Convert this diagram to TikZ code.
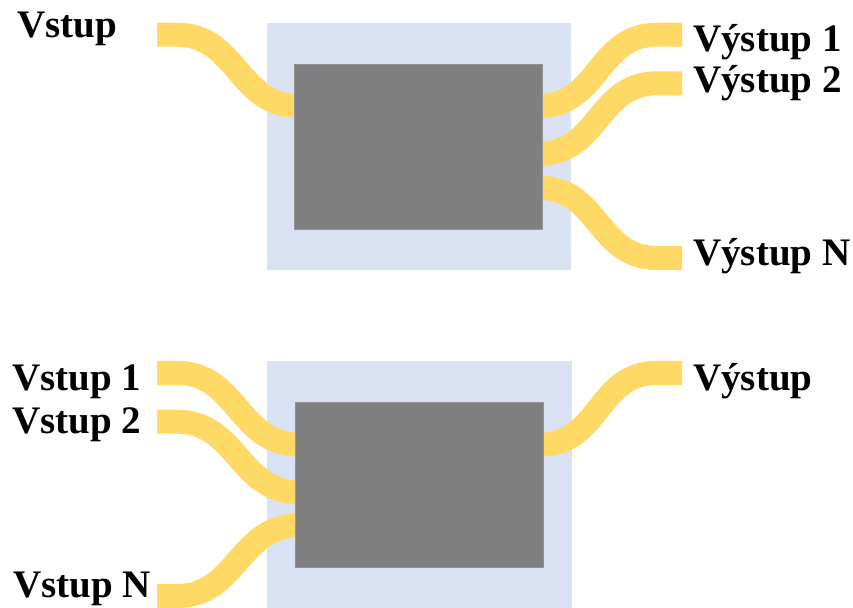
\documentclass[tikz,border=0pt]{standalone}
\usepackage{fontspec}
\setmainfont{Liberation Serif}
\definecolor{boxblue}{HTML}{DAE3F3}
\definecolor{boxgray}{HTML}{7F7F7F}
\definecolor{bandyellow}{HTML}{FFD966}
\begin{document}
\begin{tikzpicture}[x=1pt,y=-1pt,
  outer/.style={fill=boxblue,draw=none},
  core/.style={fill=boxgray,draw=boxgray!85!white,line width=0.6pt},
  band/.style={draw=bandyellow,line width=24pt},
  lbl/.style={inner sep=0pt,anchor=base west,font=\bfseries\fontsize{39}{42}\selectfont}]
\useasboundingbox (0,0) rectangle (853,607);
\clip (0,0) rectangle (853,607);
% ---------- top diagram ----------
\fill[outer] (266.7,22.7) rectangle (570.7,270);
\coordinate (tin) at (157,34.7);
\coordinate (tinE) at (298,106);
\coordinate (to1S) at (539,106);
\coordinate (to2S) at (539,153.7);
\coordinate (toNS) at (539,187.7);
\coordinate (to1) at (682,34.7);
\coordinate (to2) at (682,83.3);
\coordinate (toN) at (682,258);
\draw[band] (tin) -- ++(20,0) .. controls +(60,0) and +(-60,0) .. (tinE);
\draw[band] (to1S) .. controls +(60,0) and +(-60,0) .. ([xshift=-25pt]to1) -- (to1);
\draw[band] (to2S) .. controls +(60,0) and +(-60,0) .. ([xshift=-25pt]to2) -- (to2);
\draw[band] (toNS) .. controls +(60,0) and +(-60,0) .. ([xshift=-25pt]toN) -- (toN);
\path[core] (294,64.3) rectangle (542.7,229.3);
\node[lbl] (lin) at (17,38) {Vstup};
\node[lbl] (lo1) at (693,52) {Výstup 1};
\node[lbl] (lo2) at (693,93) {Výstup 2};
\node[lbl] (loN) at (693,265) {Výstup N};
% ---------- bottom diagram ----------
\fill[outer] (266.7,360.7) rectangle (571.7,612);
\coordinate (bi1) at (157,372.8);
\coordinate (bi2) at (157,421.7);
\coordinate (biN) at (157,596);
\coordinate (bi1E) at (299,444.7);
\coordinate (bi2E) at (299,492.3);
\coordinate (biNE) at (299,525.3);
\coordinate (boS) at (540,444.7);
\coordinate (bo) at (682,372.8);
\draw[band] (bi1) -- ++(20,0) .. controls +(60,0) and +(-60,0) .. (bi1E);
\draw[band] (bi2) -- ++(20,0) .. controls +(60,0) and +(-60,0) .. (bi2E);
\draw[band] (biN) -- ++(20,0) .. controls +(60,0) and +(-60,0) .. (biNE);
\draw[band] (boS) .. controls +(60,0) and +(-60,0) .. ([xshift=-25pt]bo) -- (bo);
\path[core] (295,402.3) rectangle (543.3,567.7);
\node[lbl] (li1) at (12,390) {Vstup 1};
\node[lbl] (li2) at (12,433) {Vstup 2};
\node[lbl] (liN) at (13,597) {Vstup N};
\node[lbl] (lo) at (693,390) {Výstup};
\end{tikzpicture}
\end{document}
